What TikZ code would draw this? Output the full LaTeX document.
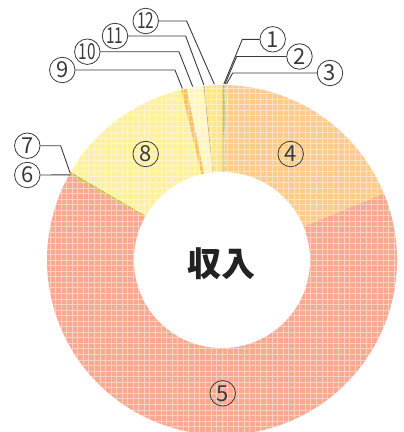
\documentclass[tikz,border=0pt]{standalone}
\usepackage{fontspec}
\usepackage{xcolor}
\newfontfamily\jpfont{Noto Sans CJK JP}
\definecolor{olive1}{HTML}{D2BC3A}
\definecolor{grey2}{HTML}{C9C98A}
\definecolor{sand3}{HTML}{E6D9A6}
\definecolor{peach4}{HTML}{FDCB8C}
\definecolor{salmon5}{HTML}{F8AA91}
\definecolor{olive6}{HTML}{D9C24A}
\definecolor{olive7}{HTML}{CDB43A}
\definecolor{yellow8}{HTML}{FFF0A0}
\definecolor{orange9}{HTML}{FCC25E}
\definecolor{pale10}{HTML}{FFF5C2}
\definecolor{brown11}{HTML}{CDAE82}
\definecolor{yellow12}{HTML}{FFE58C}
\definecolor{leader}{HTML}{3A3A3A}

\begin{document}
\begin{tikzpicture}[x=1pt, y=1pt,
	num/.style={circle, draw=leader, line width=0.8, minimum size=25.5, inner sep=0, font=\jpfont\fontsize{22}{22}\selectfont, text=leader},
	numtwo/.style={num, font=\jpfont\fontsize{22}{22}\selectfont},
	lead/.style={draw=leader, line width=0.9}]
	\useasboundingbox (-222,-172) rectangle (182,260);

	\fill[olive1] (0,0) -- (90:175) arc[start angle=90, end angle=89.2, radius=175] -- cycle;
	\fill[grey2] (0,0) -- (89.2:175) arc[start angle=89.2, end angle=88.8, radius=175] -- cycle;
	\fill[sand3] (0,0) -- (88.8:175) arc[start angle=88.8, end angle=88, radius=175] -- cycle;
	\fill[peach4] (0,0) -- (88:175) arc[start angle=88, end angle=22.3, radius=175] -- cycle;
	\fill[salmon5] (0,0) -- (22.3:175) arc[start angle=22.3, end angle=-209.2, radius=175] -- cycle;
	\fill[olive6] (0,0) -- (-209.2:175) arc[start angle=-209.2, end angle=-209.7, radius=175] -- cycle;
	\fill[olive7] (0,0) -- (-209.7:175) arc[start angle=-209.7, end angle=-210.2, radius=175] -- cycle;
	\fill[yellow8] (0,0) -- (-210.2:175) arc[start angle=-210.2, end angle=-256.5, radius=175] -- cycle;
	\fill[orange9] (0,0) -- (-256.5:175) arc[start angle=-256.5, end angle=-258.4, radius=175] -- cycle;
	\fill[pale10] (0,0) -- (-258.4:175) arc[start angle=-258.4, end angle=-263.9, radius=175] -- cycle;
	\fill[brown11] (0,0) -- (-263.9:175) arc[start angle=-263.9, end angle=-264.3, radius=175] -- cycle;
	\fill[yellow12] (0,0) -- (-264.3:175) arc[start angle=-264.3, end angle=-270, radius=175] -- cycle;

	% grid over the ring
	\begin{scope}
		\clip (0,0) circle[radius=175];
		\draw[white, opacity=0.45, line width=0.7] (-176,-176) grid[step=5.55] (176,176);
	\end{scope}
	\fill[white] (0,0) circle[radius=88];

	\node (title) at (0,-4) {\jpfont\bfseries\fontsize{34}{34}\selectfont\color[HTML]{222222}収入};

	\node[num] (n4) at (68.7,106) {4};
	\node[num] (n5) at (0.7,-133.3) {5};
	\node[num] (n8) at (-76.3,106) {8};

	\node[num] (n1) at (50.7,220.7) {1};
	\node[num] (n2) at (77.5,203.5) {2};
	\node[num] (n3) at (108,187) {3};
	\node[num] (n6) at (-194.7,85) {6};
	\node[num] (n7) at (-194.7,114.3) {7};
	\node[num] (n9) at (-159.7,190) {9};
	\node[numtwo] (n10) at (-134.7,208.3) {\scalebox{0.7}[1]{10}};
	\node[numtwo] (n11) at (-107,224) {\scalebox{0.7}[1]{11}};
	\node[numtwo] (n12) at (-76.3,239) {\scalebox{0.7}[1]{12}};

	\coordinate (e1) at (89.4:176);
	\coordinate (e2) at (89:176);
	\coordinate (e3) at (88.5:176);
	\coordinate (e6) at (-209.3:174);
	\coordinate (e7) at (-209.8:175);
	\coordinate (e9) at (-257:176);
	\coordinate (e10) at (-260.4:176);
	\coordinate (e11) at (-264.1:176);
	\coordinate (e12) at (-267.5:176);

	\draw[lead] (n1.west) -- ++(-17.2,0) -- (e1);
	\draw[lead] (n2.west) -- ++(-49.7,0) -- (e2);
	\draw[lead] (n3.west) -- ++(-84.2,0) -- (e3);
	\draw[lead] (n12.east) -- ++(27.8,0) -- (e12);
	\draw[lead] (n11.east) -- ++(57.5,0) -- (e11);
	\draw[lead] (n10.east) -- ++(78.5,0) -- (e10);
	\draw[lead] (n9.east) -- ++(99.5,0) -- (e9);
	\draw[lead] (n7.east) -- ++(20.2,0) -- (e7);
	\draw[lead] (n6.east) -- (e6);
\end{tikzpicture}
\end{document}
